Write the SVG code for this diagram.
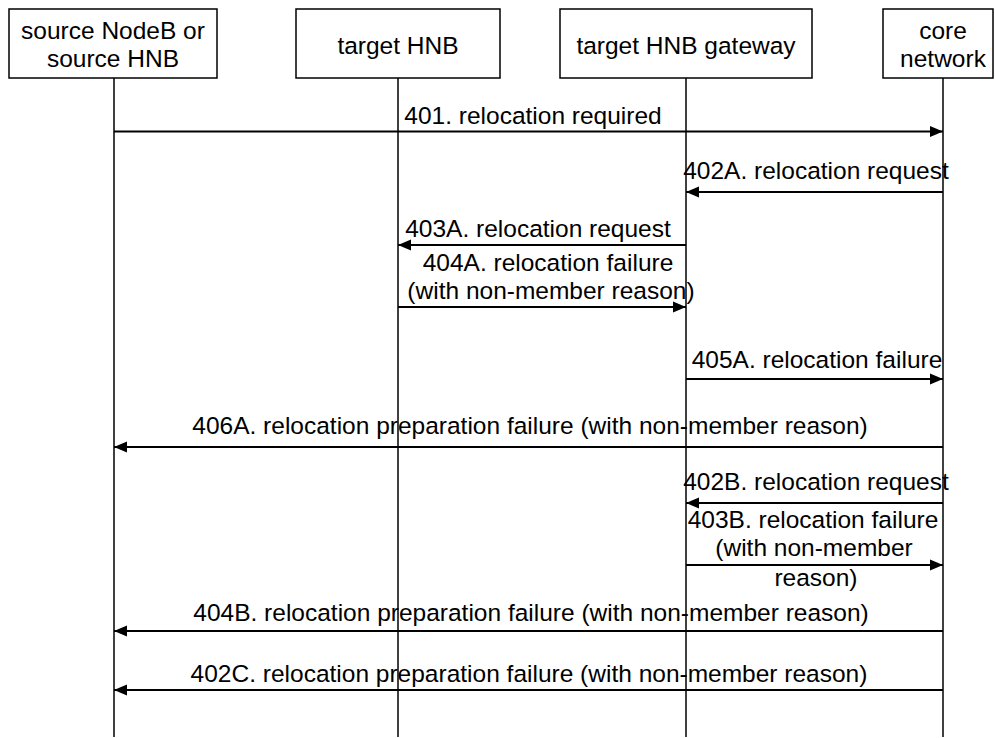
<svg xmlns="http://www.w3.org/2000/svg" width="995" height="738" viewBox="0 0 995 738">
<style>
text{font-family:"Liberation Sans",Arial,sans-serif;font-size:24.5px;fill:#000;text-anchor:middle}
.box{fill:#fff;stroke:#000;stroke-width:1.5}
.life{stroke:#000;stroke-width:1.5;fill:none}
.msg{stroke:#000;stroke-width:1.8;fill:none;marker-end:url(#ah)}
</style>
<defs>
<marker id="ah" markerUnits="userSpaceOnUse" markerWidth="14" markerHeight="12" refX="13" refY="6" orient="auto">
<path d="M0,0.5 L13,6 L0,11.5 Z" fill="#000"/>
</marker>
</defs>
<rect width="995" height="738" fill="#fff"/>
<g id="node-source">
<rect class="box" x="9" y="9" width="208" height="69"/>
<line class="life" x1="114" y1="78" x2="114" y2="737"/>
<text x="113" y="39">source NodeB or</text>
<text x="113" y="67">source HNB</text>
</g>
<g id="node-target-hnb">
<rect class="box" x="296" y="9" width="204" height="69"/>
<line class="life" x1="398" y1="78" x2="398" y2="737"/>
<text x="398" y="54">target HNB</text>
</g>
<g id="node-gateway">
<rect class="box" x="560" y="9" width="252" height="69"/>
<line class="life" x1="686" y1="78" x2="686" y2="737"/>
<text x="686" y="54">target HNB gateway</text>
</g>
<g id="node-core">
<rect class="box" x="883" y="9" width="110" height="69"/>
<line class="life" x1="943" y1="78" x2="943" y2="737"/>
<text x="943" y="39">core</text>
<text x="943" y="67">network</text>
</g>
<g id="connectors">
<line class="msg" x1="114" y1="131.5" x2="943" y2="131.5"/>
<text x="533" y="124">401. relocation required</text>
<line class="msg" x1="943" y1="192" x2="686" y2="192"/>
<text x="816" y="179">402A. relocation request</text>
<line class="msg" x1="686" y1="245" x2="398" y2="245"/>
<text x="538" y="237">403A. relocation request</text>
<line class="msg" x1="398" y1="307" x2="686" y2="307"/>
<text x="548" y="271">404A. relocation failure</text>
<text x="551" y="299">(with non-member reason)</text>
<line class="msg" x1="686" y1="379" x2="943" y2="379"/>
<text x="817" y="368">405A. relocation failure</text>
<line class="msg" x1="943" y1="447" x2="114" y2="447"/>
<text x="530" y="434">406A. relocation preparation failure (with non-member reason)</text>
<line class="msg" x1="943" y1="503" x2="686" y2="503"/>
<text x="816" y="490">402B. relocation request</text>
<line class="msg" x1="686" y1="565" x2="943" y2="565"/>
<text x="813" y="528">403B. relocation failure</text>
<text x="814" y="556">(with non-member</text>
<text x="816" y="586">reason)</text>
<line class="msg" x1="943" y1="631" x2="114" y2="631"/>
<text x="531" y="621">404B. relocation preparation failure (with non-member reason)</text>
<line class="msg" x1="943" y1="690" x2="114" y2="690"/>
<text x="529" y="682">402C. relocation preparation failure (with non-member reason)</text>
</g>
</svg>
